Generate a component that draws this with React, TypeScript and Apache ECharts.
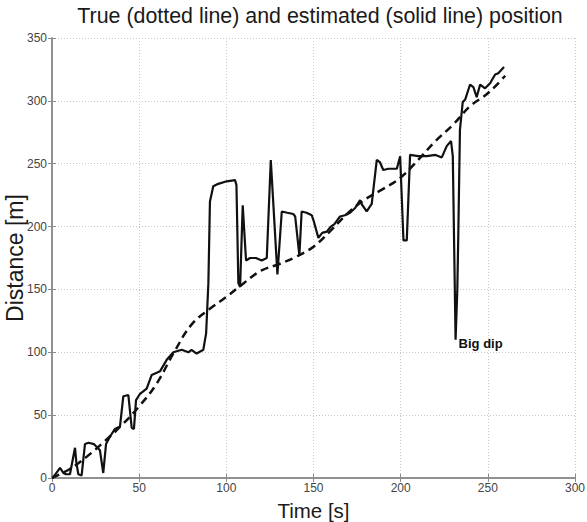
import React, { useEffect, useRef } from "react";
import * as echarts from "echarts";

const titleText = "True (dotted line) and estimated (solid line) position";
const xName = "Time [s]";
const yName = "Distance [m]";
const dipLabel = "Big dip";

// estimated position (solid line): [time s, distance m]
const estimated: [number, number][] = [
  [0.8, 1], [2, 3], [4.6, 8], [6.5, 4], [8, 3], [10.3, 3], [13.2, 24], [14, 12], [15.1, 3], [17, 2],
  [18.9, 27], [21, 28], [24, 27], [27.5, 22], [29.4, 4], [31, 27], [33.3, 33], [36.1, 39], [39, 41],
  [40.9, 65], [43.8, 66], [45.7, 40], [47, 39], [48.2, 62], [50.5, 67], [54.3, 71], [57.2, 82],
  [62, 85], [65.8, 94], [69.6, 100], [74.4, 102], [78.2, 100], [80, 102], [83, 99], [86.8, 102],
  [88.4, 115], [89.7, 155], [90.6, 220], [92.5, 232], [95.4, 234], [100.2, 236], [105, 237],
  [105.8, 233], [106.9, 155], [107.9, 152], [109.4, 217], [111.3, 173], [113.6, 175], [117, 175],
  [120.3, 173], [123.2, 175], [125.5, 253], [129.3, 162], [131.8, 212], [135, 211], [138.4, 210],
  [139.5, 208], [141.9, 177], [143.2, 212], [146, 211], [149, 209], [150, 205], [152.8, 191],
  [155, 195], [157.6, 196], [160, 200], [162, 202], [165.2, 208], [168, 209], [171, 211], [174, 215],
  [176.7, 221], [178, 217], [180.5, 212], [183.4, 218], [186.3, 253], [188.2, 251], [190, 245],
  [193, 246], [197.8, 246], [199.7, 256], [201.6, 189], [203.5, 189], [205.4, 257], [210, 256],
  [215, 256], [220, 257], [223.6, 255], [226.4, 264], [228.9, 268], [229.9, 256], [231.5, 110],
  [232.5, 150], [233.1, 197], [234, 277], [235.6, 299], [237, 301], [239.8, 313], [241.7, 311],
  [243.6, 303], [245.6, 313], [248.4, 310], [251.3, 314], [254.2, 321], [256, 322], [259.3, 327],
];

// true position (dashed line): [time s, distance m]
const truePos: [number, number][] = [
  [0, 0], [10, 7], [20, 17], [30, 29], [40, 42], [50, 57], [60, 75], [70, 100], [80, 122], [90, 134],
  [100, 144], [110, 155], [120, 165], [130, 170], [140, 176], [150, 184], [160, 197], [170, 211],
  [180, 222], [190, 230], [200, 239], [210, 253], [220, 268], [230, 281], [240, 296], [250, 306],
  [260, 320],
];

const dipPoint: [number, number] = [231.5, 110];

export default function App() {
  const ref = useRef<HTMLDivElement>(null);
  useEffect(() => {
    if (!ref.current) return;
    const chart = echarts.init(ref.current, undefined, { renderer: "svg" });
    const font = "Arial, 'Liberation Sans', sans-serif";
    const axisLine = { show: true, lineStyle: { color: "#8a8a8a", width: 1.5 } };
    const tick = { show: true, inside: true, length: 4, lineStyle: { color: "#8a8a8a", width: 1 } };
    const split = { show: true, lineStyle: { color: "#c8c8c8", type: [1, 2] as any, width: 1 } };
    chart.setOption({
      animation: false,
      backgroundColor: "#ffffff",
      title: {
        text: titleText,
        left: 315,
        top: 0,
        textAlign: "center",
        textStyle: { fontFamily: font, fontSize: 21.4, fontWeight: "normal", color: "#1a1a1a" },
      },
      grid: {
        left: 52, right: 12, top: 38, bottom: 44,
        containLabel: false, outerBoundsMode: "none",
      } as any,
      xAxis: [
        {
          type: "value", min: 0, max: 300, interval: 50,
          name: xName, nameLocation: "middle", nameGap: 22, nameMoveOverlap: false,
          nameTextStyle: { fontFamily: font, fontSize: 20.5, color: "#1a1a1a" },
          axisLine, axisTick: tick, splitLine: split,
          axisLabel: { fontFamily: font, fontSize: 12, color: "#444", margin: 4 },
        },
        {
          type: "value", min: 0, max: 300, interval: 50, position: "top",
          axisLine, axisTick: tick, splitLine: { show: false }, axisLabel: { show: false },
        },
      ],
      yAxis: [
        {
          type: "value", min: 0, max: 350, interval: 50,
          name: yName, nameLocation: "middle", nameGap: 26, nameMoveOverlap: false,
          nameTextStyle: { fontFamily: font, fontSize: 23, color: "#1a1a1a" },
          axisLine, axisTick: tick, splitLine: split,
          axisLabel: { fontFamily: font, fontSize: 12, color: "#444", margin: 5 },
        },
        {
          type: "value", min: 0, max: 350, interval: 50, position: "right",
          axisLine, axisTick: tick, splitLine: { show: false }, axisLabel: { show: false },
        },
      ],
      series: [
        {
          type: "line",
          data: truePos,
          smooth: 0.4,
          showSymbol: false,
          lineStyle: { color: "#111", width: 2.5, type: [8, 5] as any },
          z: 2,
        },
        {
          type: "line",
          data: estimated,
          showSymbol: false,
          lineStyle: { color: "#111", width: 2.2 },
          z: 3,
          markPoint: {
            symbol: "circle",
            symbolSize: 0,
            data: [{ coord: dipPoint }],
            label: {
              show: true,
              formatter: dipLabel,
              position: "right",
              distance: 3,
              offset: [0, 4],
              fontFamily: font,
              fontSize: 13,
              fontWeight: "bold",
              color: "#111",
            },
          },
        },
      ],
    });
    return () => chart.dispose();
  }, []);
  return (
    <div
      ref={ref}
      style={{ position: "absolute", left: 0, top: 0, width: 587, height: 522 }}
    />
  );
}
